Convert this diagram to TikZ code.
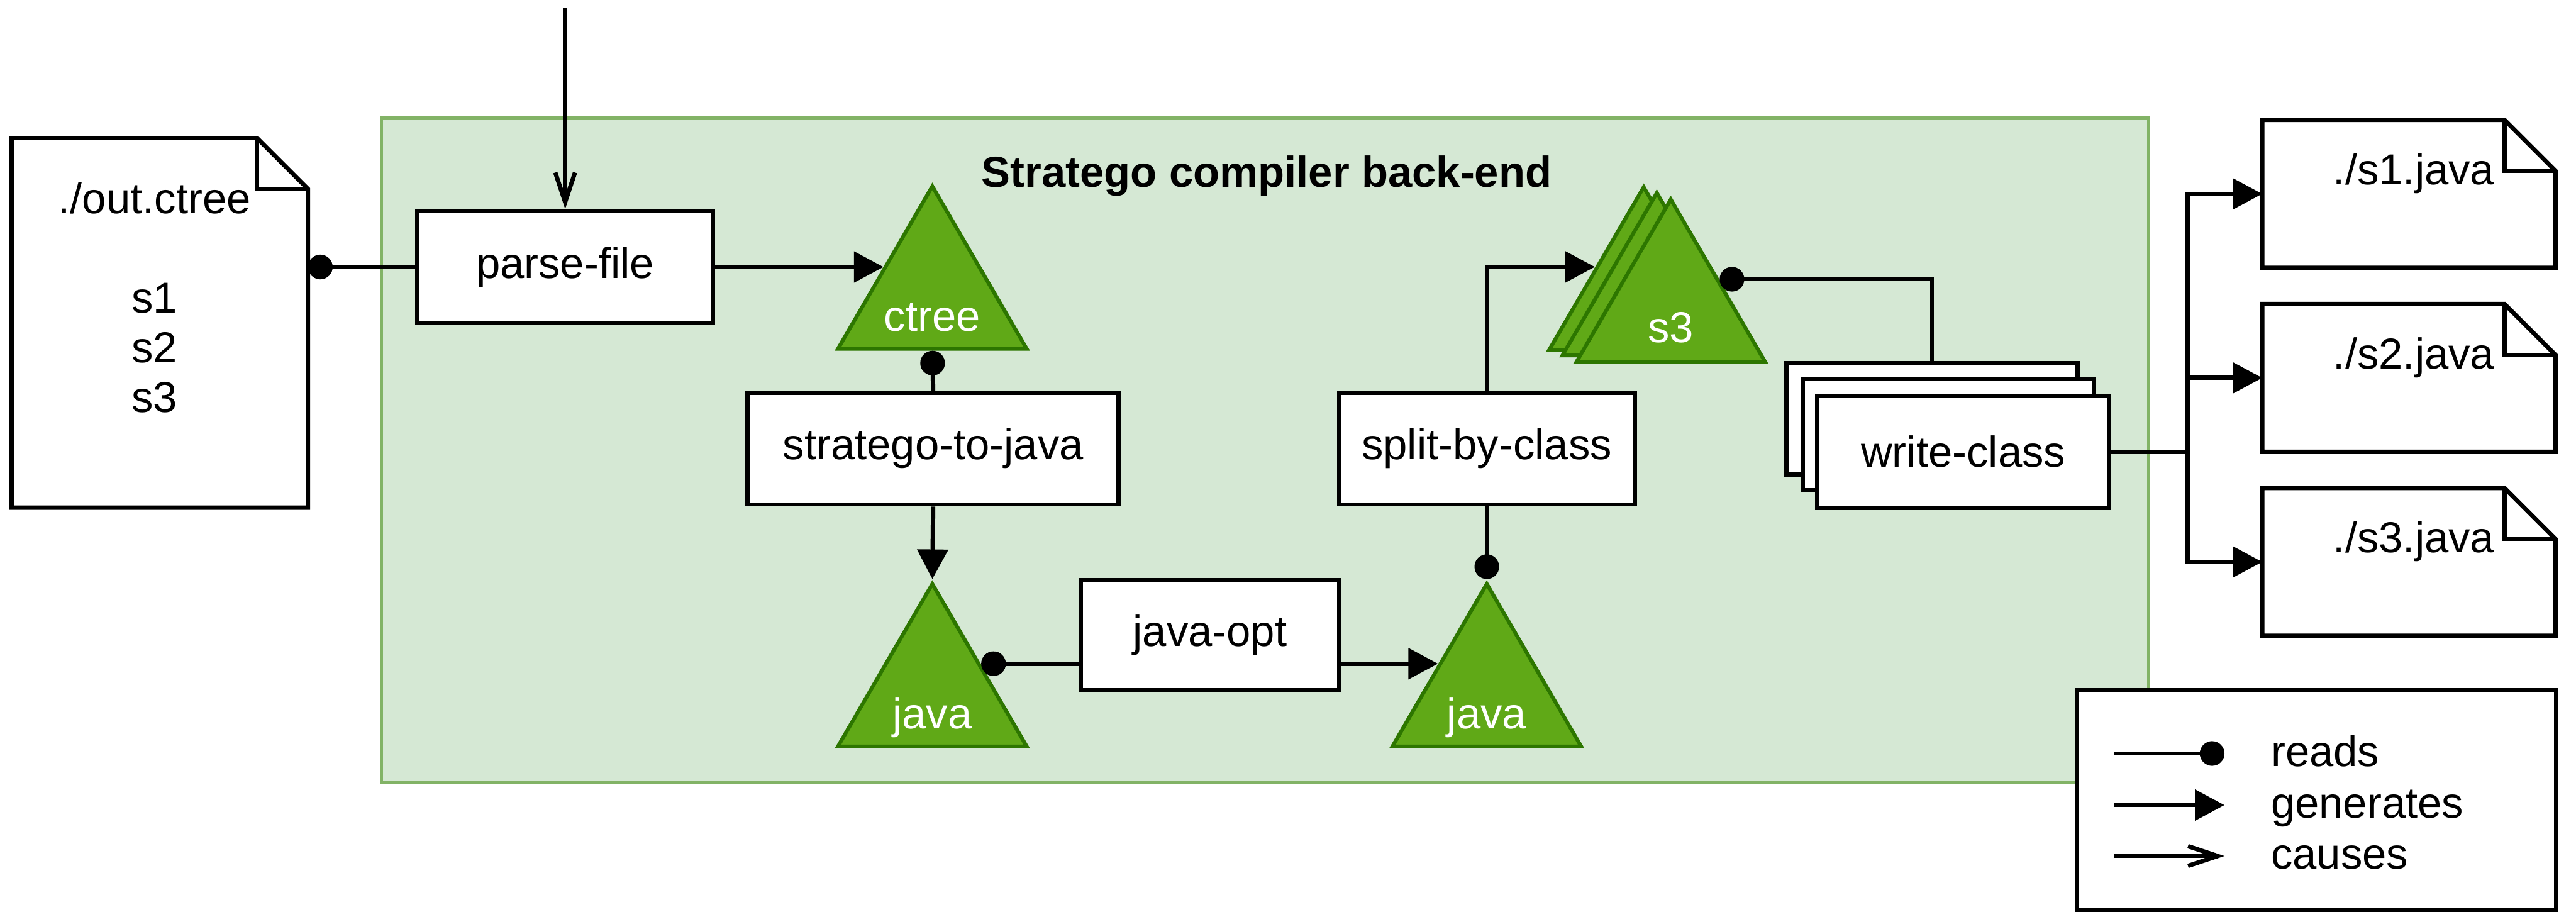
\documentclass[tikz,border=0pt]{standalone}
\usepackage{fontspec}
\setmainfont{Liberation Sans}
\usetikzlibrary{positioning, shapes.geometric, arrows.meta}

\definecolor{backendfill}{HTML}{D5E8D4}
\definecolor{backendline}{HTML}{82B366}
\definecolor{treefill}{HTML}{60A917}
\definecolor{treeline}{HTML}{2D7600}

\tikzset{
    backend/.style={draw=backendline, fill=backendfill, line width=1.2pt, inner sep=0pt},
    proc/.style={draw, fill=white, line width=1.5pt, inner sep=0pt, minimum height=1.36cm},
    tree/.style={isosceles triangle, shape border rotate=90, isosceles triangle stretches,
        minimum width=2.3cm, minimum height=1.98cm, inner sep=0pt,
        draw=treeline, fill=treefill, line width=1.3pt, anchor=lower side},
    treelabel/.style={text=white, anchor=base},
    doc/.style={inner sep=0pt, outer sep=0pt},
    doctext/.style={inner sep=0pt, anchor=north},
    legendbox/.style={draw, fill=white, line width=1.5pt, inner sep=0pt},
    reads/.style={line width=1.5pt, -{Circle[length=0.3cm]}},
    generates/.style={line width=1.5pt, -{Triangle[length=0.36cm, width=0.37cm]}},
    causes/.style={line width=1.5pt, -{Straight Barb[length=0.36cm, width=0.24cm]}},
}

% file with a folded corner
\newcommand{\foldnote}[1]{%
    \draw[line width=1.5pt] (#1.south west) -- (#1.north west) -- ([xshift=-0.62cm]#1.north east)
        -- ([yshift=-0.62cm]#1.north east) -- (#1.south east) -- cycle;
    \draw[line width=1.5pt] ([xshift=-0.62cm]#1.north east) |- ([yshift=-0.62cm]#1.north east);
}

\begin{document}
\begin{tikzpicture}[x=0.02cm, y=-0.02cm, font=\fontsize{15}{17.2}\selectfont]
    \useasboundingbox (0,0) rectangle (1568,555);

    \node[backend, minimum width=21.52cm, minimum height=8.08cm] (backend) at (770,274) {};
    \node[anchor=base, font=\fontsize{15}{17.2}\selectfont\bfseries] (title) at (771,113.8) {Stratego compiler back-end};

    % input file
    \node[doc, minimum width=3.61cm, minimum height=4.5cm] (outctree) at (97.25,196.5) {};
    \foldnote{outctree}
    \node[doctext, align=center] (outctreetext) at (94,110.5) {./out.ctree\\[17.2pt]s1\\s2\\s3};

    % steps
    \coordinate (start) at (344,5);
    \node[proc, minimum width=3.6cm] (parsefile) at (344,162.5) {parse-file};
    \node[proc, minimum width=4.52cm] (strategotojava) at (568,273) {stratego-to-java};
    \node[proc, minimum width=3.14cm, minimum height=1.34cm] (javaopt) at (736.5,386.5) {java-opt};
    \node[proc, minimum width=3.6cm] (splitbyclass) at (905,273) {split-by-class};
    \node[proc, minimum width=3.55cm] (writeclassA) at (1176,255) {};
    \node[proc, minimum width=3.55cm] (writeclassB) at (1186,264.5) {};
    \node[proc, minimum width=3.55cm] (writeclassC) at (1195,275) {write-class};

    % trees
    \node[tree] (ctree) at (567.5,213.5) {};
    \node[treelabel] at ([yshift=0.24cm]ctree.lower side) {ctree};
    \node[tree] (javaA) at (567.5,455.5) {};
    \node[treelabel] at ([yshift=0.24cm]javaA.lower side) {java};
    \node[tree] (javaB) at (905,455.5) {};
    \node[treelabel] at ([yshift=0.24cm]javaB.lower side) {java};
    \node[tree] (sA) at (1000.5,214) {};
    \node[tree] (sB) at (1008.5,217.5) {};
    \node[tree] (sC) at (1017,221.5) {};
    \node[treelabel] at ([yshift=0.26cm]sC.lower side) {s3};

    % output files
    \node[doc, minimum width=3.57cm, minimum height=1.8cm] (sAjava) at (1466.25,118) {};
    \node[doc, minimum width=3.57cm, minimum height=1.8cm] (sBjava) at (1466.25,230) {};
    \node[doc, minimum width=3.57cm, minimum height=1.8cm] (sCjava) at (1466.25,342) {};
    \foldnote{sAjava}
    \foldnote{sBjava}
    \foldnote{sCjava}
    \node[doctext] at ([xshift=0.06cm, yshift=-0.4cm]sAjava.north) {./s1.java};
    \node[doctext] at ([xshift=0.06cm, yshift=-0.4cm]sBjava.north) {./s2.java};
    \node[doctext] at ([xshift=0.06cm, yshift=-0.4cm]sCjava.north) {./s3.java};

    \draw[causes] (start) -- (parsefile);
    \draw[reads] (parsefile.west) -- (outctree.east |- parsefile.west);
    \draw[generates] (parsefile.east) -- (parsefile.east -| ctree.left side);
    \draw[reads] (strategotojava.north) -- (ctree.lower side);
    \draw[generates] (strategotojava.south) -- (javaA.apex);
    \draw[reads] (javaopt.west |- javaA.right side) -- (javaA.right side);
    \draw[generates] (javaopt.east |- javaB.left side) -- (javaB.left side);
    \draw[reads] (splitbyclass.south) -- (javaB.apex);
    \draw[generates] (splitbyclass.north) |- (sA.left side);
    \draw[reads] (writeclassA.north) |- (sC.right side);
    \coordinate (fork) at ([xshift=0.93cm]writeclassC.east);
    \draw[line width=1.5pt] (writeclassC.east) -- (fork);
    \draw[generates] (fork) |- (sAjava.west);
    \draw[generates] (fork) |- (sBjava.west);
    \draw[generates] (fork) |- (sCjava.west);

    % legend
    \node[legendbox, minimum width=5.84cm, minimum height=2.68cm] (legend) at (1410,487) {};
    \foreach \kind/\y in {reads/458.6, generates/490, causes/521} {
        \coordinate (\kind-from) at (1287,\y);
        \coordinate (\kind-to) at (1354,\y);
        \draw[\kind] (\kind-from) -- (\kind-to);
        \node[anchor=base west, inner sep=0pt] (\kind-text) at (1382,\y+8) {\kind};
    }
\end{tikzpicture}
\end{document}
